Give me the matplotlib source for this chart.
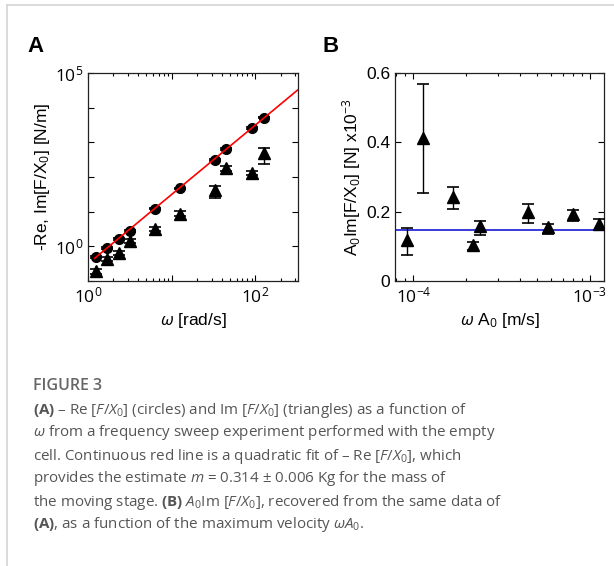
import matplotlib
matplotlib.use('Agg')
import matplotlib.pyplot as plt
from matplotlib.lines import Line2D
import numpy as np

plt.rcParams['font.family'] = ['Liberation Sans', 'DejaVu Sans']
plt.rcParams['mathtext.fontset'] = 'custom'
plt.rcParams['mathtext.rm'] = 'Liberation Sans'
plt.rcParams['mathtext.it'] = 'Liberation Sans:italic'
plt.rcParams['mathtext.bf'] = 'Liberation Sans:bold'

# panel A: -Re and Im of F/X0 vs omega
omega = [1.26, 1.69, 2.33, 3.22, 6.3, 12.6, 33.0, 44.9, 91.0, 126.0]
re_vals = [0.49, 0.91, 1.67, 2.78, 12.3, 46.8, 310, 630, 2570, 5200]
im_vals = [0.19, 0.44, 0.64, 1.43, 3.2, 8.8, 42, 178, 133, 480]
im_lo = [0.16, 0.38, 0.56, 1.25, 2.85, 7.6, 24, 150, 118, 231]
im_hi = [0.22, 0.50, 0.72, 1.60, 3.55, 10.2, 55, 208, 150, 676]
mass = 0.314

# panel B: A0*Im vs omega*A0
vel = [9.25e-5, 1.14e-4, 1.67e-4, 2.17e-4, 2.4e-4, 4.46e-4, 5.8e-4, 8.05e-4, 1.13e-3]
b_vals = [0.117, 0.413, 0.242, 0.103, 0.159, 0.199, 0.156, 0.194, 0.165]
b_lo = [0.074, 0.254, 0.209, 0.088, 0.132, 0.167, 0.135, 0.173, 0.146]
b_hi = [0.153, 0.568, 0.271, 0.112, 0.172, 0.222, 0.163, 0.206, 0.180]
b_mean = 0.148

fig = plt.figure(figsize=(6.14, 5.66), dpi=100)

# light frame like the page border
fig.add_artist(Line2D([7/614, 1], [1-5/566, 1-5/566], color='#d4d4d4', lw=1.2))
fig.add_artist(Line2D([7/614, 7/614], [0, 1-5/566], color='#d4d4d4', lw=1.2))

axA = fig.add_axes([88/614, 1-281/566, 210/614, 208/566])
axB = fig.add_axes([395/614, 1-281/566, 209/614, 208/566])

for ax in (axA, axB):
    ax.tick_params(which='both', direction='in', top=True, right=True, labelsize=12.5, width=0.8)
    ax.tick_params(which='major', length=4)
    ax.tick_params(which='minor', length=2.5)
    for s in ax.spines.values():
        s.set_linewidth(0.9)
        s.set_color('#222222')

# --- A ---
re = np.array(re_vals)
axA.errorbar(omega, re, yerr=[re*0.06, re*0.06], fmt='o', color='black', ms=7,
             capsize=4, elinewidth=1, capthick=1.2, zorder=3)
im = np.array(im_vals)
axA.errorbar(omega, im, yerr=[im - np.array(im_lo), np.array(im_hi) - im], fmt='^',
             color='black', ms=8, capsize=4, elinewidth=1, capthick=1.2, zorder=3)
wfit = np.logspace(np.log10(1.2), np.log10(330), 50)
axA.plot(wfit, mass*wfit**2, color='red', lw=1.2, zorder=4)
axA.set_xscale('log')
axA.set_yscale('log')
axA.set_xlim(1, 10**2.51)
axA.set_ylim(0.1, 1e5)
axA.set_xticks([1, 10, 100])
axA.set_xticklabels(['$10^0$', '', '$10^2$'])
axA.set_yticks([10.0**k for k in range(-1, 6)])
axA.set_yticklabels(['', '$10^0$', '', '', '', '', '$10^5$'])
axA.yaxis.set_minor_locator(matplotlib.ticker.NullLocator())
axA.set_xlabel(r'$\mathit{\omega}$ [rad/s]', fontsize=12.5, labelpad=4)
axA.set_ylabel('-Re, Im[F/X$_0$] [N/m]', fontsize=12.5, labelpad=2)

# --- B ---
b = np.array(b_vals)
axB.errorbar(vel, b, yerr=[b - np.array(b_lo), np.array(b_hi) - b], fmt='^',
             color='black', ms=8, capsize=4, elinewidth=1, capthick=1.2, zorder=3)
axB.axhline(b_mean, color='#2a2ad8', lw=1.3, zorder=2)
axB.set_xscale('log')
axB.set_xlim(10**-4.104, 10**-2.92)
axB.set_ylim(0, 0.6)
axB.set_xticks([1e-4, 1e-3])
axB.set_xticklabels(['$10^{-4}$', '$10^{-3}$'])
axB.set_yticks([0, 0.2, 0.4, 0.6])
axB.set_yticklabels(['0', '0.2', '0.4', '0.6'])
axB.set_xlabel(r'$\mathit{\omega}$ A$_0$ [m/s]', fontsize=12.5, labelpad=4)
axB.set_ylabel('A$_0$Im[F/X$_0$] [N] x10$^{-3}$', fontsize=12.5, labelpad=2)

fig.text(27/614, 1-47/566, 'A', fontsize=16, fontweight='bold', va='center', ha='left')
fig.text(322/614, 1-46/566, 'B', fontsize=16, fontweight='bold', va='center', ha='left')

# caption
cap_font = 'Open Sans'
plt.rcParams['mathtext.rm'] = 'Open Sans'
plt.rcParams['mathtext.it'] = 'Open Sans:italic'
plt.rcParams['mathtext.bf'] = 'Open Sans:bold'
fig.text(33/614, 1-386/566, 'FIGURE 3', fontsize=11.5, color='#666666', family=cap_font,
         fontweight='semibold', va='center')
lines = [
    r'$\mathbf{(A)}$ – Re [$\mathit{F/X}_0$] (circles) and Im [$\mathit{F/X}_0$] (triangles) as a function of',
    r'$\mathit{\omega}$ from a frequency sweep experiment performed with the empty',
    r'cell. Continuous red line is a quadratic fit of – Re [$\mathit{F/X}_0$], which',
    r'provides the estimate $\mathit{m}$ = 0.314 ± 0.006 Kg for the mass of',
    r'the moving stage. $\mathbf{(B)}$ $\mathit{A}_0$Im [$\mathit{F/X}_0$], recovered from the same data of',
    r'$\mathbf{(A)}$, as a function of the maximum velocity $\mathit{\omega A}_0$.',
]
for i, t in enumerate(lines):
    fig.text(33/614, 1-(410 + 23*i)/566, t, fontsize=10.9, color='#555555',
             family=cap_font, va='center')

fig.savefig('out.png', dpi=100)
